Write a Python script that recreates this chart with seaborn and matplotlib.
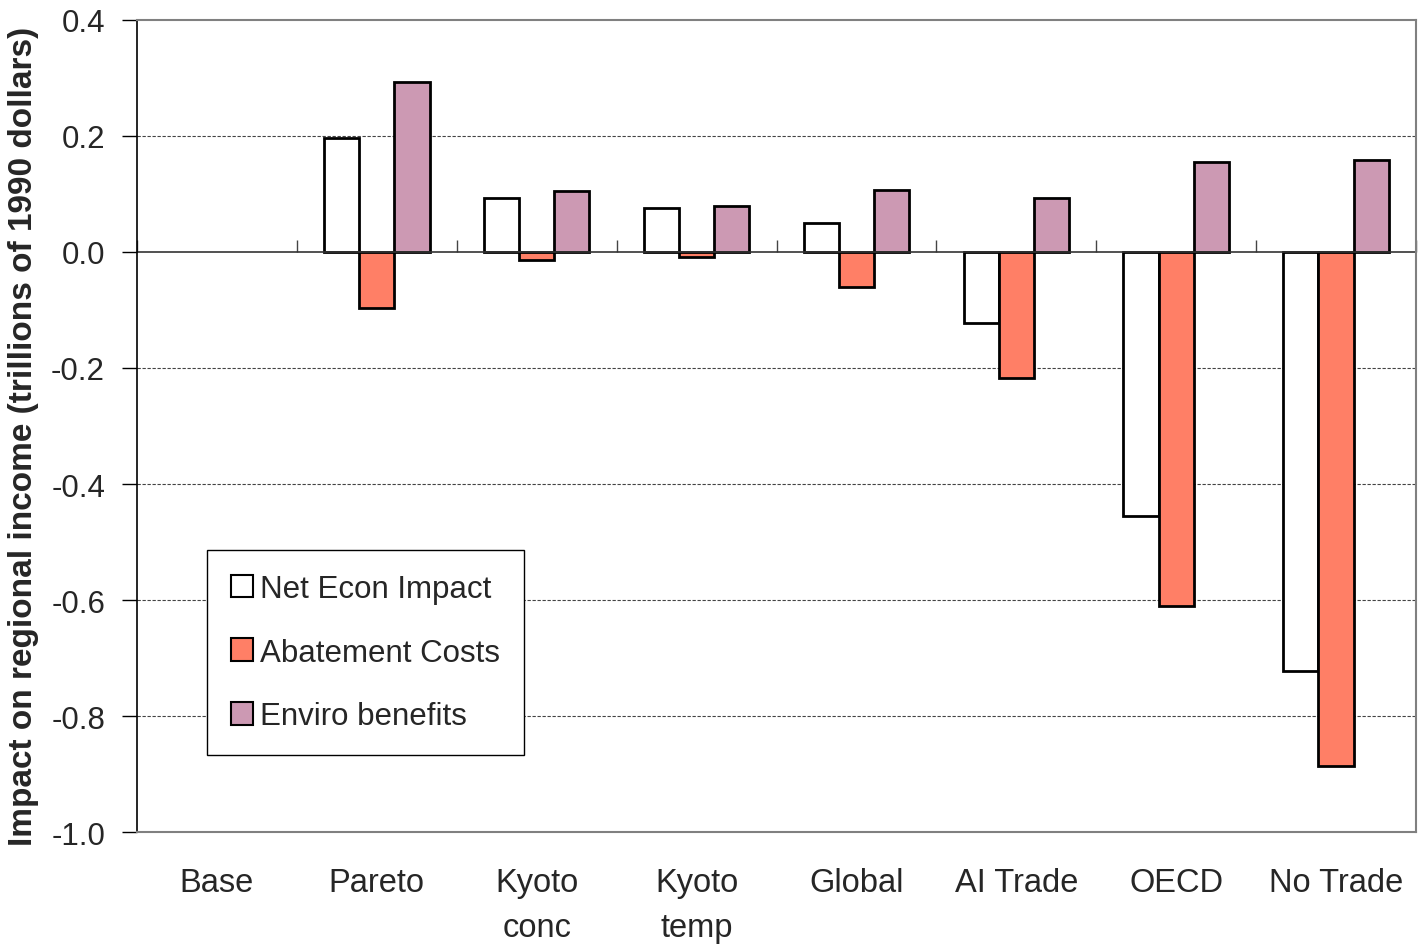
import matplotlib
matplotlib.use("Agg")
import matplotlib.pyplot as plt
import seaborn as sns
import pandas as pd
import numpy as np

# Scenario results (trillions of 1990 dollars)
scenarios = ["Base", "Pareto", "Kyoto\nconc", "Kyoto\ntemp", "Global", "AI Trade", "OECD", "No Trade"]
net_econ = [0.0, 0.196, 0.093, 0.076, 0.050, -0.122, -0.455, -0.722]
abatement = [0.0, -0.096, -0.013, -0.008, -0.061, -0.217, -0.611, -0.886]
enviro = [0.0, 0.293, 0.106, 0.080, 0.107, 0.093, 0.155, 0.158]
series_names = ["Net Econ Impact", "Abatement Costs", "Enviro benefits"]
series_colors = ["#FFFFFF", "#FF7F66", "#CC99B3"]
y_ticks = [0.4, 0.2, 0.0, -0.2, -0.4, -0.6, -0.8, -1.0]

df = pd.DataFrame({
    "scenario": scenarios * 3,
    "series": np.repeat(series_names, len(scenarios)),
    "value": net_econ + abatement + enviro,
})

sns.set_theme(style="white")
plt.rcParams["font.family"] = ["Liberation Sans", "DejaVu Sans"]

fig = plt.figure(figsize=(14.21, 9.45), dpi=100)
ax = fig.add_axes([0.0964, 0.1185, 0.9001, 0.8593])

sns.barplot(data=df, x="scenario", y="value", hue="series", order=scenarios,
            hue_order=series_names, palette=series_colors, width=0.66,
            edgecolor="black", linewidth=2.0, saturation=1, ax=ax, legend=True)

# zero-height bars (the Base scenario) draw no outline
for p in ax.patches:
    if abs(p.get_height()) < 1e-12:
        p.set_linewidth(0)

ymin, ymax = -1.0, 0.4
ax.set_ylim(ymin, ymax)
ax.set_xlim(-0.5, len(scenarios) - 0.5)
ax.set_yticks(y_ticks)
ax.set_yticklabels([f"{v:.1f}" for v in y_ticks], fontsize=22.5)
ax.tick_params(axis="y", direction="out", length=11, width=1, color="black", pad=12, left=True)

# Horizontal dashed grid at the non-zero ticks
for v in y_ticks:
    if v not in (0.0, ymin, ymax):
        ax.axhline(v, color="#444444", lw=0.8, ls=(0, (3, 1.5)), zorder=0)

# zero line
ax.axhline(0, color="#333333", lw=1.2, zorder=1)

# Category labels along the bottom of the frame
ax.set_xticks(range(len(scenarios)))
ax.set_xticklabels(scenarios, fontsize=23.5, linespacing=1.6, va="top")
ax.tick_params(axis="x", length=0, pad=25, bottom=False)
ax.set_xlabel("")
ax.set_ylabel("Impact on regional income (trillions of 1990 dollars)",
              fontsize=24, fontweight="bold", labelpad=12)
ax.yaxis.set_label_coords(-0.0765, 0.488)

for side in ["top", "right", "bottom"]:
    ax.spines[side].set_color("#808080")
    ax.spines[side].set_linewidth(1.5)
ax.spines["left"].set_color("black")
ax.spines["left"].set_linewidth(1.2)

# Tick marks between groups along the zero line
zero_pos = (0 - ymin) / (ymax - ymin)
sec = ax.secondary_xaxis(zero_pos)
sec.set_xticks(np.arange(len(scenarios) + 1) - 0.5)
sec.set_xticklabels([])
sec.tick_params(axis="x", direction="out", length=9, width=1, color="#444444")
for side in ["top", "bottom", "left", "right"]:
    sec.spines[side].set_visible(False)

leg = ax.legend(loc="lower left", bbox_to_anchor=(0.0547, 0.0948), fontsize=22.5,
                frameon=True, fancybox=False, edgecolor="black", framealpha=1,
                handlelength=0.72, handleheight=0.72, handletextpad=0.23,
                labelspacing=1.08, borderpad=0.76, borderaxespad=0)
leg.get_frame().set_linewidth(1.0)
for h in leg.legend_handles:
    h.set_edgecolor("black")
    h.set_linewidth(1.5)

fig.savefig("out.png", dpi=100)
